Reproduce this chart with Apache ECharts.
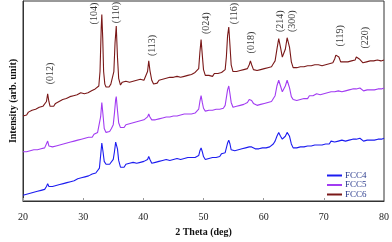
<!DOCTYPE html>
<html><head><meta charset="utf-8">
<script src="https://cdn.jsdelivr.net/npm/echarts@6/dist/echarts.min.js"></script>
<style>html,body{margin:0;padding:0;background:#fff}#c{width:392px;height:242px}</style>
</head><body><div id="c"></div>
<script>
var xTicks = [20, 30, 40, 50, 60, 70, 80];
var seriesNames = ['FCC4', 'FCC5', 'FCC6'];
var fcc6 = [[20.0,89],[20.3,91],[20.6,90],[20.9,93],[21.2,92],[21.5,95],[21.8,94],[22.1,96],[22.4,95],[22.7,98],[23.0,97],[23.3,99],[23.6,100],[23.9,104],[24.1,112],[24.3,104],[24.5,99],[24.8,100],[25.1,99],[25.4,102],[25.7,101],[26.0,104],[26.3,103],[26.6,106],[26.9,104],[27.2,107],[27.5,106],[27.8,109],[28.1,108],[28.4,110],[28.7,108],[29.0,111],[29.3,110],[29.6,113],[29.9,111],[30.2,112],[30.5,110],[30.8,113],[31.1,112],[31.4,115],[31.7,114],[32.0,117],[32.3,116],[32.6,120],[32.8,135],[33.0,180],[33.1,194],[33.25,170],[33.4,135],[33.6,122],[33.8,119],[34.0,121],[34.3,119],[34.6,122],[34.9,124],[35.1,135],[35.3,165],[35.5,182],[35.7,150],[35.9,128],[36.2,121],[36.5,124],[36.8,122],[37.1,125],[37.4,123],[37.7,124],[38.0,122],[38.3,125],[38.6,124],[38.9,126],[39.2,124],[39.5,127],[39.8,125],[40.1,126],[40.4,128],[40.7,135],[40.9,146],[41.1,136],[41.4,126],[41.7,122],[42.0,124],[42.3,123],[42.6,126],[42.9,125],[43.2,127],[43.5,126],[43.8,128],[44.1,127],[44.4,129],[44.7,127],[45.0,129],[45.3,128],[45.6,130],[45.9,128],[46.2,129],[46.5,127],[46.8,130],[47.1,129],[47.4,131],[47.7,130],[48.0,132],[48.3,130],[48.6,134],[48.9,132],[49.2,138],[49.4,155],[49.6,168],[49.8,152],[50.0,137],[50.3,131],[50.6,133],[50.9,131],[51.2,132],[51.5,130],[51.8,133],[52.1,131],[52.4,133],[52.7,132],[53.0,134],[53.3,133],[53.6,137],[53.8,150],[54.0,172],[54.2,181],[54.4,162],[54.6,142],[54.9,135],[55.2,133],[55.5,135],[55.8,134],[56.1,136],[56.4,135],[56.7,137],[57.0,136],[57.3,138],[57.6,142],[57.8,146],[58.0,142],[58.3,137],[58.6,138],[58.9,136],[59.2,138],[59.5,137],[59.8,139],[60.1,138],[60.4,140],[60.7,139],[61.0,141],[61.3,140],[61.6,143],[61.9,146],[62.2,158],[62.5,169],[62.8,160],[63.1,150],[63.3,149],[63.6,158],[63.9,170],[64.1,172],[64.3,160],[64.6,145],[64.9,139],[65.2,141],[65.5,139],[65.8,141],[66.1,140],[66.4,142],[66.7,140],[67.0,142],[67.3,141],[67.6,143],[67.9,141],[68.2,143],[68.5,142],[68.8,144],[69.1,142],[69.4,144],[69.7,141],[70.0,143],[70.3,142],[70.6,144],[70.9,143],[71.2,145],[71.5,144],[71.8,148],[72.0,152],[72.2,154],[72.5,150],[72.8,145],[73.1,143],[73.4,145],[73.7,143],[74.0,145],[74.3,144],[74.6,146],[74.9,145],[75.2,147],[75.4,150],[75.6,151],[75.9,148],[76.2,146],[76.5,144],[76.8,146],[77.1,145],[77.4,147],[77.7,146],[78.0,148],[78.3,146],[78.6,148],[78.9,147],[79.2,148],[79.5,146],[79.8,148],[80.0,147]];
var fcc5 = [[20.0,52],[20.3,53],[20.6,52],[20.9,54],[21.2,53],[21.5,55],[21.8,54],[22.1,55],[22.4,54],[22.7,56],[23.0,55],[23.3,57],[23.6,56],[23.9,58],[24.1,63],[24.3,58],[24.6,56],[24.9,57],[25.2,56],[25.5,58],[25.8,57],[26.1,59],[26.4,58],[26.7,60],[27.0,59],[27.3,61],[27.6,60],[27.9,62],[28.2,61],[28.5,63],[28.8,62],[29.1,64],[29.4,63],[29.7,65],[30.0,64],[30.3,66],[30.6,65],[30.9,67],[31.2,68],[31.5,67],[31.8,70],[32.1,69],[32.4,72],[32.7,74],[32.9,88],[33.1,103],[33.3,90],[33.5,76],[33.8,72],[34.1,74],[34.4,73],[34.7,76],[35.0,80],[35.2,92],[35.4,106],[35.5,109],[35.7,95],[35.9,82],[36.2,77],[36.5,79],[36.8,77],[37.1,80],[37.4,78],[37.7,81],[38.0,79],[38.3,82],[38.6,80],[38.9,83],[39.2,81],[39.5,84],[39.8,83],[40.1,85],[40.4,84],[40.7,88],[40.9,91],[41.1,88],[41.4,85],[41.7,86],[42.0,85],[42.3,87],[42.6,86],[42.9,88],[43.2,87],[43.5,89],[43.8,88],[44.1,90],[44.4,88],[44.7,90],[45.0,89],[45.3,91],[45.6,89],[45.9,91],[46.2,90],[46.5,92],[46.8,91],[47.1,93],[47.4,91],[47.7,92],[48.0,91],[48.3,93],[48.6,92],[48.9,94],[49.2,96],[49.4,104],[49.6,110],[49.8,103],[50.0,97],[50.3,94],[50.6,96],[50.9,95],[51.2,97],[51.5,95],[51.8,97],[52.1,96],[52.4,98],[52.7,96],[53.0,98],[53.3,97],[53.6,100],[53.8,108],[54.0,116],[54.2,120],[54.4,112],[54.6,103],[54.9,98],[55.2,97],[55.5,99],[55.8,98],[56.1,100],[56.4,99],[56.7,101],[57.0,100],[57.3,103],[57.6,106],[57.8,107],[58.0,105],[58.3,102],[58.6,101],[58.9,100],[59.2,102],[59.5,101],[59.8,103],[60.1,102],[60.4,104],[60.7,103],[61.0,105],[61.3,104],[61.6,106],[61.9,110],[62.2,120],[62.5,126],[62.8,120],[63.1,114],[63.3,113],[63.6,120],[63.9,126],[64.1,126],[64.3,118],[64.6,109],[64.9,106],[65.2,107],[65.5,105],[65.8,107],[66.1,106],[66.4,108],[66.7,107],[67.0,109],[67.3,107],[67.6,110],[67.9,108],[68.2,110],[68.5,109],[68.8,112],[69.1,110],[69.4,111],[69.7,110],[70.0,112],[70.3,111],[70.6,113],[70.9,112],[71.2,114],[71.5,112],[71.8,114],[72.1,113],[72.4,115],[72.7,113],[73.0,114],[73.3,113],[73.6,115],[73.9,114],[74.2,116],[74.5,114],[74.8,117],[75.1,115],[75.4,117],[75.7,116],[76.0,118],[76.3,116],[76.6,115],[76.9,117],[77.2,116],[77.5,118],[77.8,116],[78.1,117],[78.4,116],[78.7,118],[79.0,117],[79.3,119],[79.6,117],[80.0,118]];
var fcc4 = [[20.0,7],[20.3,9],[20.6,8],[20.9,10],[21.2,9],[21.5,11],[21.8,10],[22.1,12],[22.4,11],[22.7,13],[23.0,12],[23.3,14],[23.6,13],[23.9,16],[24.1,19],[24.3,16],[24.6,15],[24.9,16],[25.2,15],[25.5,17],[25.8,16],[26.1,18],[26.4,17],[26.7,19],[27.0,18],[27.3,20],[27.6,19],[27.9,21],[28.2,20],[28.5,22],[28.8,21],[29.1,24],[29.4,23],[29.7,25],[30.0,24],[30.3,26],[30.6,25],[30.9,27],[31.2,26],[31.5,29],[31.8,28],[32.1,30],[32.4,32],[32.7,35],[32.9,48],[33.1,61],[33.3,52],[33.5,42],[33.8,39],[34.1,40],[34.4,39],[34.7,41],[35.0,44],[35.2,52],[35.4,62],[35.5,64],[35.7,55],[35.9,43],[36.2,36],[36.5,38],[36.8,36],[37.1,39],[37.4,37],[37.7,40],[38.0,38],[38.3,41],[38.6,39],[38.9,40],[39.2,38],[39.5,41],[39.8,40],[40.1,42],[40.4,41],[40.7,44],[40.9,47],[41.1,44],[41.4,40],[41.7,39],[42.0,41],[42.3,40],[42.6,42],[42.9,41],[43.2,43],[43.5,42],[43.8,44],[44.1,42],[44.4,43],[44.7,42],[45.0,44],[45.3,43],[45.6,45],[45.9,43],[46.2,44],[46.5,43],[46.8,45],[47.1,44],[47.4,46],[47.7,45],[48.0,46],[48.3,44],[48.6,46],[48.9,45],[49.2,48],[49.4,53],[49.6,56],[49.8,52],[50.0,47],[50.3,44],[50.6,46],[50.9,45],[51.2,47],[51.5,46],[51.8,48],[52.1,46],[52.4,48],[52.7,47],[53.0,50],[53.3,49],[53.6,51],[53.8,56],[54.0,61],[54.2,64],[54.4,60],[54.6,54],[54.9,52],[55.2,53],[55.5,52],[55.8,54],[56.1,53],[56.4,55],[56.7,54],[57.0,56],[57.3,55],[57.6,57],[57.8,58],[58.0,57],[58.3,56],[58.6,55],[58.9,56],[59.2,55],[59.5,57],[59.8,56],[60.1,57],[60.4,56],[60.7,58],[61.0,57],[61.3,59],[61.6,60],[61.9,63],[62.2,68],[62.5,72],[62.8,68],[63.1,65],[63.3,64],[63.6,68],[63.9,72],[64.1,73],[64.3,68],[64.6,60],[64.9,56],[65.2,57],[65.5,56],[65.8,58],[66.1,57],[66.4,59],[66.7,57],[67.0,59],[67.3,58],[67.6,60],[67.9,58],[68.2,60],[68.5,59],[68.8,61],[69.1,59],[69.4,60],[69.7,59],[70.0,61],[70.3,60],[70.6,62],[70.9,60],[71.2,63],[71.5,61],[71.8,62],[72.1,61],[72.4,63],[72.7,62],[73.0,64],[73.3,62],[73.6,63],[73.9,62],[74.2,64],[74.5,63],[74.8,65],[75.1,63],[75.4,65],[75.7,64],[76.0,66],[76.3,64],[76.6,63],[76.9,65],[77.2,64],[77.5,66],[77.8,64],[78.1,65],[78.4,64],[78.7,66],[79.0,65],[79.3,67],[79.6,65],[80.0,66]];
var peakLabels = ['(012)','(104)','(110)','(113)','(024)','(116)','(018)','(214)','(300)','(119)','(220)'];
var labelAngle = [24.6, 31.8, 35.5, 41.5, 50.5, 55.2, 58.0, 62.7, 64.7, 72.8, 76.9];
var labelLevel = [133, 195, 196, 162, 185, 195, 165, 187, 187, 172, 170];

var serif = 'Liberation Serif, Times New Roman, serif';
var colors = {FCC4: '#1c1cf0', FCC5: '#a23cf2', FCC6: '#7a1818'};
var dataMap = {FCC4: fcc4, FCC5: fcc5, FCC6: fcc6};

var chart = echarts.init(document.getElementById('c'), null, {renderer: 'canvas'});
var series = seriesNames.map(function (n) {
  return {name: n, type: 'line', data: dataMap[n], showSymbol: false, symbol: 'none',
    lineStyle: {width: 1.1, color: colors[n]}, itemStyle: {color: colors[n]}, z: 2, animation: false};
});
series.push({
  name: 'labels', type: 'scatter', symbolSize: 0, silent: true, animation: false,
  data: peakLabels.map(function (t, i) { return {name: t, value: [labelAngle[i], labelLevel[i]]}; }),
  label: {show: true, position: 'inside', rotate: 90, formatter: '{b}', fontFamily: serif, fontSize: 10, color: '#000'}
});
chart.setOption({
  animation: false,
  backgroundColor: '#fff',
  grid: {left: 18, right: 6, top: 1, bottom: 34, show: true, borderColor: '#333', borderWidth: 1},
  legend: {
    data: seriesNames, orient: 'vertical', left: 322, top: 166, itemWidth: 15, itemHeight: 2, itemGap: 0.5,
    icon: 'rect', textStyle: {fontFamily: serif, fontSize: 9, color: '#2a3a8c', lineHeight: 8, padding: [0,0,0,-2]}
  },
  xAxis: {
    type: 'value', min: 20, max: 80, interval: 10,
    name: '2 Theta (deg)', nameLocation: 'middle', nameGap: 26,
    nameTextStyle: {fontFamily: serif, fontSize: 10, fontWeight: 'bold', color: '#111'},
    axisLine: {show: true, lineStyle: {color: '#333'}},
    axisTick: {show: true, inside: true, length: 3, lineStyle: {color: '#999'}},
    axisLabel: {fontFamily: serif, fontSize: 10, color: '#222', margin: 11,
      formatter: function (v) { return xTicks.indexOf(v) >= 0 ? String(v) : ''; }},
    splitLine: {show: false}
  },
  yAxis: {
    type: 'value', min: 1, max: 208,
    name: 'Intensity (arb. unit)', nameLocation: 'middle', nameGap: 5,
    nameTextStyle: {fontFamily: serif, fontSize: 10, fontWeight: 'bold', color: '#111'},
    axisLine: {show: true, lineStyle: {color: '#333'}},
    axisTick: {show: false}, axisLabel: {show: false}, splitLine: {show: false}
  },
  series: series
});
</script></body></html>
